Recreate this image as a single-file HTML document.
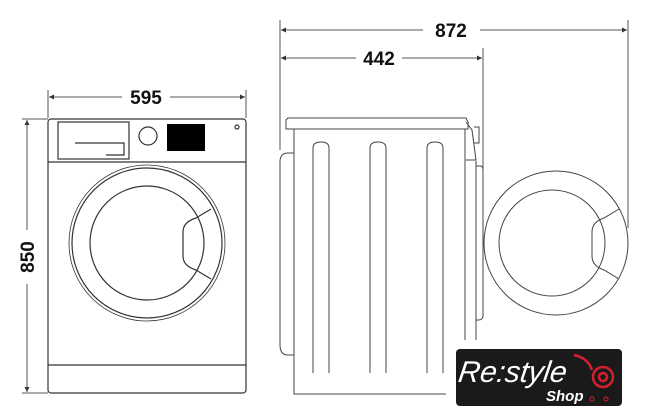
<!DOCTYPE html>
<html><head><meta charset="utf-8"><style>
html,body{margin:0;padding:0;background:#fff;width:649px;height:416px;overflow:hidden}
svg{display:block}
.t{font-family:"Liberation Sans",sans-serif;font-weight:bold;font-size:19px;fill:#111}
</style></head><body>
<svg width="649" height="416" viewBox="0 0 649 416" xmlns="http://www.w3.org/2000/svg">
<defs>
<marker id="a" viewBox="0 0 10 10" refX="10" refY="5" markerWidth="9" markerHeight="5" orient="auto-start-reverse" markerUnits="userSpaceOnUse"><path d="M0,0 L10,5 L0,10 z" fill="#333"/></marker>
</defs>
<g stroke="#555" stroke-width="1" fill="none">
<line x1="48" y1="90" x2="48" y2="118"/><line x1="246" y1="90" x2="246" y2="118"/>
<line x1="49" y1="97" x2="122" y2="97" marker-start="url(#a)"/>
<line x1="170" y1="97" x2="245" y2="97" marker-end="url(#a)"/>
<line x1="22" y1="119" x2="48" y2="119"/><line x1="22" y1="393" x2="48" y2="393"/>
<line x1="27" y1="120" x2="27" y2="230" marker-start="url(#a)"/>
<line x1="27" y1="284" x2="27" y2="392" marker-end="url(#a)"/>
<line x1="280" y1="20" x2="280" y2="150"/>
<line x1="483" y1="48" x2="483" y2="190"/>
<line x1="628" y1="20" x2="628" y2="228"/>
<line x1="281" y1="30" x2="423" y2="30" marker-start="url(#a)"/>
<line x1="480" y1="30" x2="627" y2="30" marker-end="url(#a)"/>
<line x1="281" y1="58" x2="356" y2="58" marker-start="url(#a)"/>
<line x1="402" y1="58" x2="482" y2="58" marker-end="url(#a)"/>
</g>
<text class="t" x="146" y="104" text-anchor="middle">595</text>
<text class="t" x="451" y="37" text-anchor="middle">872</text>
<text class="t" x="379" y="65" text-anchor="middle">442</text>
<text class="t" transform="translate(34,257) rotate(-90)" text-anchor="middle">850</text>

<g stroke="#333" stroke-width="1.2" fill="none">
<rect x="48" y="119" width="198" height="274" rx="3"/>
<line x1="48" y1="162" x2="246" y2="162"/>
<line x1="48" y1="365" x2="246" y2="365"/>
<rect x="58" y="122" width="71" height="37"/>
<path d="M75,143 H124 V155 H106"/>
<circle cx="148" cy="136" r="9"/>
<circle cx="237" cy="127" r="2"/>
<circle cx="147" cy="243" r="78" stroke-width="0.8"/>
<circle cx="147" cy="243" r="75"/>
<circle cx="147" cy="243" r="57"/>
<path d="M211,209 L196,218 Q183,222 183,232 L183,256 Q183,266 196,270 L211,279"/>
</g>
<rect x="167" y="124" width="38" height="27" fill="#000"/>

<g stroke="#444" stroke-width="1" fill="none">
<path d="M288,118 H466 L468,122 V129 H286 V120 Z"/>
<path d="M294,129 V394 H446"/>
<path d="M294,153 H288 Q280,153 280,162 V345 Q280,355 288,355 H294"/>
<line x1="465" y1="129" x2="465" y2="340"/>
<line x1="476" y1="161" x2="476" y2="340"/>
<path d="M466,122 L472,130 L476,160 H466"/>
<path d="M474,127 H479 V143 H474"/>
<path d="M476,166 H481 Q483,167 483,170 V315 Q483,320 479,320 H476"/>
<path d="M313,373 V148 Q313,142 321,142 Q329,142 329,148 V373"/>
<path d="M370,373 V148 Q370,142 378,142 Q386,142 386,148 V373"/>
<path d="M427,373 V148 Q427,142 435,142 Q443,142 443,148 V373"/>
<circle cx="556" cy="243" r="72"/>
<circle cx="552" cy="243" r="53"/>
<path d="M619,209 L604,218 Q592,222 592,232 L592,256 Q592,266 604,270 L619,279"/>
</g>

<rect x="456" y="349" width="166" height="57" rx="4" fill="#1a1a1a"/>
<text x="461" y="382" font-family="Liberation Sans,sans-serif" font-style="italic" font-size="30" fill="#fff" transform="skewX(-8) translate(50,0)">Re:style</text>
<text x="546" y="401" font-family="Liberation Sans,sans-serif" font-weight="bold" font-style="italic" font-size="15" fill="#fff">Shop</text>
<g stroke="#d4202e" stroke-width="2.5" fill="none">
<path d="M574,355 Q588,358 592,370"/>
<circle cx="603" cy="377" r="10"/>
<circle cx="603" cy="377" r="4"/>
</g>
<circle cx="592" cy="399" r="2" fill="none" stroke="#d4202e"/>
<circle cx="606" cy="399" r="2" fill="none" stroke="#d4202e"/>
</svg>
</body></html>
